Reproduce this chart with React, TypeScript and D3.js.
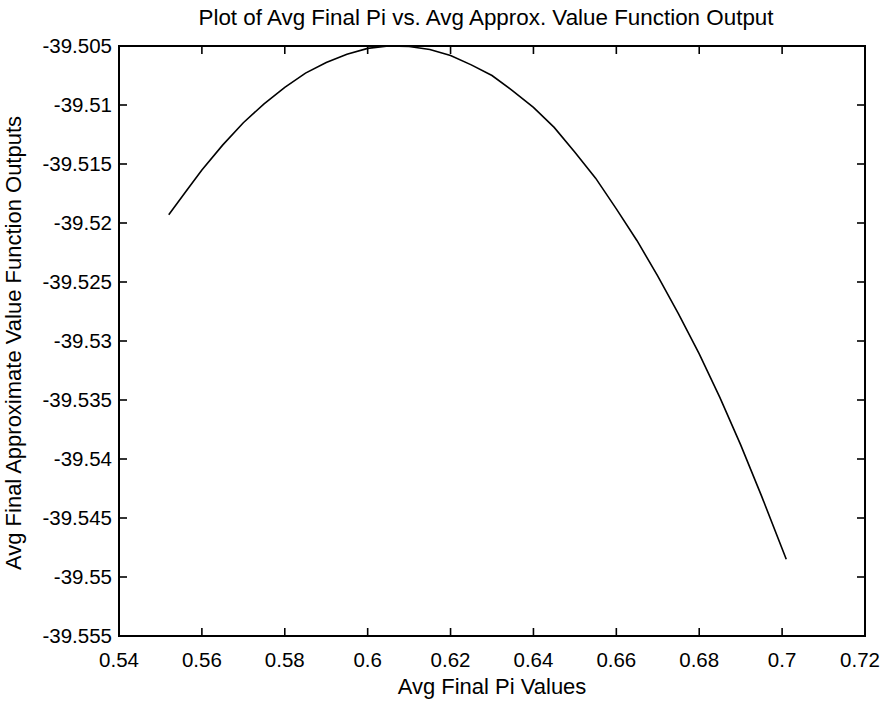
import React, { useEffect, useRef } from "react";
import * as d3 from "d3";

const piValues = [0.552, 0.556, 0.56, 0.565, 0.57, 0.575, 0.58, 0.585, 0.59, 0.595, 0.6, 0.605, 0.61, 0.615, 0.62, 0.625, 0.63, 0.635, 0.64, 0.645, 0.65, 0.655, 0.66, 0.665, 0.67, 0.675, 0.68, 0.685, 0.69, 0.695, 0.701];
const valueOutputs = [-39.5193, -39.5174, -39.5155, -39.5134, -39.5115, -39.5099, -39.5085, -39.5073, -39.5064, -39.5057, -39.5052, -39.505, -39.50504, -39.5053, -39.5058, -39.5066, -39.5075, -39.5088, -39.5102, -39.5119, -39.514, -39.5162, -39.5188, -39.5215, -39.5245, -39.5277, -39.5311, -39.5348, -39.5388, -39.5431, -39.5485];
const xTicks = [0.54, 0.56, 0.58, 0.6, 0.62, 0.64, 0.66, 0.68, 0.7, 0.72];
const xTickLabels = ["0.54", "0.56", "0.58", "0.6", "0.62", "0.64", "0.66", "0.68", "0.7", "0.72"];
const yTicks = [-39.505, -39.51, -39.515, -39.52, -39.525, -39.53, -39.535, -39.54, -39.545, -39.55, -39.555];
const yTickLabels = ["-39.505", "-39.51", "-39.515", "-39.52", "-39.525", "-39.53", "-39.535", "-39.54", "-39.545", "-39.55", "-39.555"];
const titleText = "Plot of Avg Final Pi vs. Avg Approx. Value Function Output";
const xLabelText = "Avg Final Pi Values";
const yLabelText = "Avg Final Approximate Value Function Outputs";

export default function App() {
  const ref = useRef<SVGSVGElement>(null);
  useEffect(() => {
    const W = 882, H = 701;
    const L = 119, R = 865, T = 46, B = 636;
    const svg = d3.select(ref.current);
    svg.selectAll("*").remove();
    const font = "Arial, 'Liberation Sans', sans-serif";
    const x = d3.scaleLinear().domain([0.54, 0.72]).range([L, R]);
    const y = d3.scaleLinear().domain([-39.555, -39.505]).range([B, T]);

    svg.append("rect").attr("width", W).attr("height", H).attr("fill", "#fff");

    const line = d3.line<number>().x((d, i) => x(piValues[i])).y((d) => y(d));
    svg.append("path").datum(valueOutputs).attr("d", line).attr("fill", "none").attr("stroke", "#000").attr("stroke-width", 1.6);

    svg.append("rect").attr("x", L).attr("y", T).attr("width", R - L).attr("height", B - T)
      .attr("fill", "none").attr("stroke", "#000").attr("stroke-width", 2);

    const tl = 8;
    xTicks.forEach((t, i) => {
      const px = x(t);
      svg.append("line").attr("x1", px).attr("x2", px).attr("y1", B).attr("y2", B - tl).attr("stroke", "#000").attr("stroke-width", 1.6);
      svg.append("line").attr("x1", px).attr("x2", px).attr("y1", T).attr("y2", T + tl).attr("stroke", "#000").attr("stroke-width", 1.6);
      svg.append("text").attr("x", Math.min(px, 860)).attr("y", 667).attr("text-anchor", "middle")
        .attr("font-family", font).attr("font-size", 20.5).text(xTickLabels[i]);
    });
    yTicks.forEach((t, i) => {
      const py = y(t);
      svg.append("line").attr("x1", L).attr("x2", L + tl).attr("y1", py).attr("y2", py).attr("stroke", "#000").attr("stroke-width", 1.6);
      svg.append("line").attr("x1", R).attr("x2", R - tl).attr("y1", py).attr("y2", py).attr("stroke", "#000").attr("stroke-width", 1.6);
      svg.append("text").attr("x", 112).attr("y", py + 7).attr("text-anchor", "end")
        .attr("font-family", font).attr("font-size", 20.5).text(yTickLabels[i]);
    });

    svg.append("text").attr("x", 486).attr("y", 25).attr("text-anchor", "middle")
      .attr("font-family", font).attr("font-size", 22.4).text(titleText);
    svg.append("text").attr("x", 492).attr("y", 694).attr("text-anchor", "middle")
      .attr("font-family", font).attr("font-size", 22).text(xLabelText);
    svg.append("text").attr("transform", `translate(21,343) rotate(-90)`).attr("text-anchor", "middle")
      .attr("font-family", font).attr("font-size", 22).text(yLabelText);
  }, []);
  return <svg ref={ref} width={882} height={701} style={{ position: "absolute", left: 0, top: 0 }} />;
}
